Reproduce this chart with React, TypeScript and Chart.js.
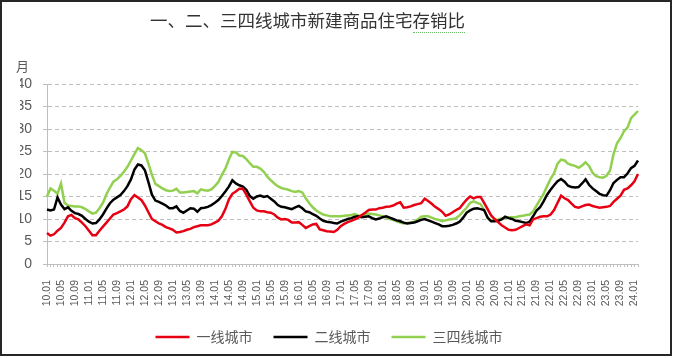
import React, { useEffect, useRef } from "react";
import { Chart, registerables } from "chart.js";

Chart.register(...registerables);

// Months 2010.01 .. 2024.02, labelled "yy.mm"
const firstYear = 10;
const lastYear = 24;
const lastMonthOfLastYear = 2;
const categories: string[] = [];
for (let y = firstYear; y <= lastYear; y++) {
  const maxM = y === lastYear ? lastMonthOfLastYear : 12;
  for (let m = 1; m <= maxM; m++) {
    categories.push(`${y}.${m < 10 ? "0" + m : m}`);
  }
}

const seriesNames = ["一线城市", "二线城市", "三四线城市"];

const tier1 = [
  6.9, 6.3, 6.6, 7.4, 8.0, 9.2, 10.6, 10.9, 10.2, 9.9, 9.2, 8.4,
  7.4, 6.4, 6.4, 7.4, 8.3, 9.2, 10.1, 11.0, 11.3, 11.7, 12.1, 12.8,
  14.4, 15.3, 14.8, 14.2, 13.0, 11.5, 10.0, 9.5, 9.0, 8.7, 8.2, 7.9,
  7.6, 7.0, 7.1, 7.3, 7.6, 7.8, 8.2, 8.4, 8.6, 8.6, 8.6, 8.8,
  9.2, 9.6, 10.6, 12.2, 14.3, 15.6, 16.1, 16.7, 16.7, 15.4, 13.9, 12.5,
  11.9, 11.7, 11.7, 11.5, 11.4, 11.0, 10.3, 9.9, 10.0, 9.8, 9.2, 9.2,
  9.3, 8.7, 8.0, 8.4, 8.8, 8.9, 7.7, 7.5, 7.3, 7.2, 7.1, 7.6,
  8.4, 8.9, 9.3, 9.6, 9.9, 10.3, 10.9, 11.4, 12.0, 12.1, 12.1, 12.4,
  12.5, 12.7, 12.8, 13.0, 13.4, 13.7, 12.5, 12.6, 12.8, 13.1, 13.3, 13.5,
  14.5, 14.0, 13.4, 12.7, 12.2, 11.6, 10.7, 11.0, 11.5, 12.0, 12.4, 13.4,
  14.3, 15.0, 14.6, 14.9, 14.9, 13.6, 12.2, 10.8, 10.0, 9.3, 8.6, 8.1,
  7.6, 7.5, 7.6, 8.0, 8.4, 8.8, 8.6, 9.9, 10.2, 10.5, 10.6, 10.6,
  11.0, 12.0, 13.6, 15.2, 14.6, 14.2, 13.4, 12.7, 12.5, 12.8, 13.1, 13.2,
  12.9, 12.7, 12.5, 12.6, 12.7, 12.9, 13.8, 14.5, 15.2, 16.5, 16.8, 17.5,
  18.4, 20.0,
];

const tier2 = [
  12.1, 11.9, 12.1, 14.8, 13.2, 12.2, 12.6, 11.8, 11.3, 11.1, 10.7, 10.0,
  9.4, 9.0, 9.1, 9.9, 11.0, 12.3, 13.5, 14.3, 14.8, 15.3, 16.2, 17.3,
  18.8, 21.0, 22.1, 21.9, 20.8, 18.2, 15.4, 14.1, 13.8, 13.4, 13.0, 12.4,
  12.4, 12.8, 11.8, 11.4, 11.9, 12.4, 12.3, 11.6, 12.4, 12.5, 12.7, 13.1,
  13.6, 14.2, 15.1, 16.1, 17.2, 18.6, 17.9, 17.5, 17.2, 16.5, 15.1, 14.5,
  15.0, 15.2, 14.9, 15.1, 14.5, 13.9, 13.1, 12.7, 12.6, 12.4, 12.2, 12.6,
  12.9, 12.4, 11.7, 11.5, 11.1, 10.7, 10.1, 9.6, 9.4, 9.3, 9.1, 9.0,
  9.4, 9.7, 10.0, 10.2, 10.5, 10.6, 10.4, 10.5, 10.6, 10.2, 9.9, 10.1,
  10.4, 10.6, 10.3, 10.0, 9.7, 9.5, 9.2, 9.0, 9.1, 9.2, 9.5, 9.8,
  10.0, 9.7, 9.4, 9.1, 8.8, 8.4, 8.4, 8.5, 8.7, 9.0, 9.4, 10.3,
  11.4, 11.9, 12.3, 12.4, 12.2, 12.0, 10.3, 9.5, 9.5, 9.6, 9.9, 10.5,
  10.2, 10.0, 9.6, 9.5, 9.3, 9.1, 9.4, 10.6, 11.9, 12.6, 13.9, 15.4,
  16.5, 17.5, 18.4, 18.9, 18.3, 17.4, 17.1, 17.0, 17.1, 17.9, 18.8, 17.6,
  16.8, 16.2, 15.6, 15.3, 15.2, 16.4, 18.0, 18.7, 19.3, 19.3, 20.1, 21.3,
  21.8, 23.0,
];

const tier34 = [
  15.0, 16.8, 16.3, 15.6, 17.9, 13.6, 13.0, 12.9, 12.8, 12.8, 12.6, 12.2,
  11.7, 11.2, 11.4, 12.4, 13.6, 15.5, 17.0, 18.3, 18.8, 19.6, 20.5, 21.6,
  23.0, 24.4, 25.8, 25.3, 24.6, 22.3, 19.8, 17.8, 17.3, 16.8, 16.4, 16.2,
  16.3, 16.7, 15.9, 15.9, 16.0, 16.1, 16.2, 15.7, 16.6, 16.4, 16.3, 16.6,
  17.3, 18.2, 19.8, 21.2, 23.2, 24.9, 24.8, 24.1, 24.0, 23.3, 22.4, 21.6,
  21.6, 21.2, 20.5, 19.4, 18.6, 17.9, 17.3, 16.9, 16.7, 16.5, 16.2, 16.0,
  16.2, 15.9, 14.6, 13.5, 12.6, 11.9, 11.4, 11.0, 10.8, 10.6, 10.6, 10.6,
  10.6, 10.7, 10.8, 10.9, 11.1, 10.8, 10.6, 10.9, 11.2, 11.1, 11.0, 10.8,
  10.6, 10.3, 10.0, 9.8, 9.5, 9.2, 9.0, 9.1, 9.2, 9.4, 9.9, 10.5,
  10.6, 10.6, 10.3, 10.0, 9.8, 9.5, 9.7, 9.9, 10.0, 10.2, 10.8, 11.7,
  12.5, 13.6, 13.9, 13.6, 13.3, 12.0, 10.2, 9.6, 9.8, 9.9, 10.1, 10.3,
  10.4, 10.4, 10.4, 10.6, 10.7, 10.9, 11.0, 11.7, 13.0, 14.3, 15.6, 17.3,
  18.9, 20.2, 22.3, 23.2, 23.0, 22.3, 22.0, 21.8, 21.4, 21.9, 22.6, 21.8,
  20.3, 19.5, 19.3, 19.2, 19.6, 20.8, 24.4, 26.8, 28.0, 29.5, 30.3, 32.4,
  33.2, 34.0,
];

const yMin = 0;
const yMax = 40;
const yStep = 5;
const labelEvery = 4;

const titleText = "一、二、三四线城市新建商品住宅存销比";
const unitText = "月";

const colors = ["#E60012", "#000000", "#92D050"];

export default function App() {
  const canvasRef = useRef<HTMLCanvasElement | null>(null);

  useEffect(() => {
    const canvas = canvasRef.current;
    if (!canvas) return;
    const numFont = "'Liberation Sans', Arial, 'Noto Sans CJK SC', sans-serif";
    const cjkFont = "'Noto Sans CJK SC', 'Liberation Sans', sans-serif";
    const chart = new Chart(canvas, {
      type: "line",
      data: {
        labels: categories,
        datasets: [tier1, tier2, tier34].map((d, i) => ({
          label: seriesNames[i],
          data: d,
          borderColor: colors[i],
          backgroundColor: colors[i],
          borderWidth: 2.5,
          pointRadius: 0,
          tension: 0,
          fill: false,
        })),
      },
      options: {
        animation: false,
        responsive: false,
        devicePixelRatio: 1,
        layout: { padding: { top: 84, left: 20, right: 36, bottom: 4 } },
        plugins: {
          title: { display: false },
          tooltip: { enabled: false },
          legend: {
            position: "bottom",
            labels: {
              usePointStyle: true,
              pointStyle: "line",
              pointStyleWidth: 34,
              padding: 21,
              color: "#595959",
              font: { size: 14, family: cjkFont },
            },
          },
        },
        scales: {
          x: {
            type: "category",
            offset: false,
            grid: {
              display: true,
              drawOnChartArea: false,
              drawTicks: true,
              tickLength: 3,
              color: "#BFBFBF",
            },
            border: { display: true, color: "#BFBFBF", width: 1 },
            ticks: {
              autoSkip: false,
              maxRotation: 90,
              minRotation: 90,
              padding: 13,
              color: "#595959",
              font: { size: 10.5, family: numFont },
              callback: (_v: any, idx: number) =>
                idx % labelEvery === 0 ? categories[idx] : "",
            },
            afterFit: (scale: any) => {
              scale.height = 45;
            },
          },
          y: {
            min: yMin,
            max: yMax,
            grid: {
              color: "#BFBFBF",
              tickLength: 4,
              tickColor: "#BFBFBF",
            },
            border: { display: true, color: "#BFBFBF", width: 1, dash: [4, 3] },
            ticks: {
              stepSize: yStep,
              padding: 11,
              color: "#595959",
              font: { size: 14, family: numFont },
            },
            afterFit: (scale: any) => {
              scale.width = 27;
            },
          },
        },
      },
    });
    return () => chart.destroy();
  }, []);

  return (
    <div
      style={{
        position: "absolute",
        left: 0,
        top: 0,
        width: 674,
        height: 358,
        background: "#ffffff",
        overflow: "hidden",
      }}
    >
      <canvas
        ref={canvasRef}
        width={674}
        height={358}
        style={{ position: "absolute", left: 0, top: 0, width: 674, height: 358 }}
      />
      <div
        style={{
          position: "absolute",
          left: 150,
          top: 10,
          fontSize: 17.5,
          lineHeight: "20px",
          fontFamily: "'Noto Sans CJK SC', sans-serif",
          color: "#333333",
          whiteSpace: "nowrap",
        }}
      >
        {titleText.slice(0, titleText.length - 3)}
        <span style={{ borderBottom: "1px dotted #6CBF6C" }}>
          {titleText.slice(titleText.length - 3)}
        </span>
      </div>
      <div
        style={{
          position: "absolute",
          left: 16,
          top: 58,
          fontSize: 13,
          lineHeight: "15px",
          fontFamily: "'Noto Sans CJK SC', sans-serif",
          color: "#595959",
        }}
      >
        {unitText}
      </div>
      <div
        style={{
          position: "absolute",
          left: 0,
          top: 0,
          width: 668,
          height: 352,
          border: "2px solid #262626",
          pointerEvents: "none",
        }}
      />
    </div>
  );
}
